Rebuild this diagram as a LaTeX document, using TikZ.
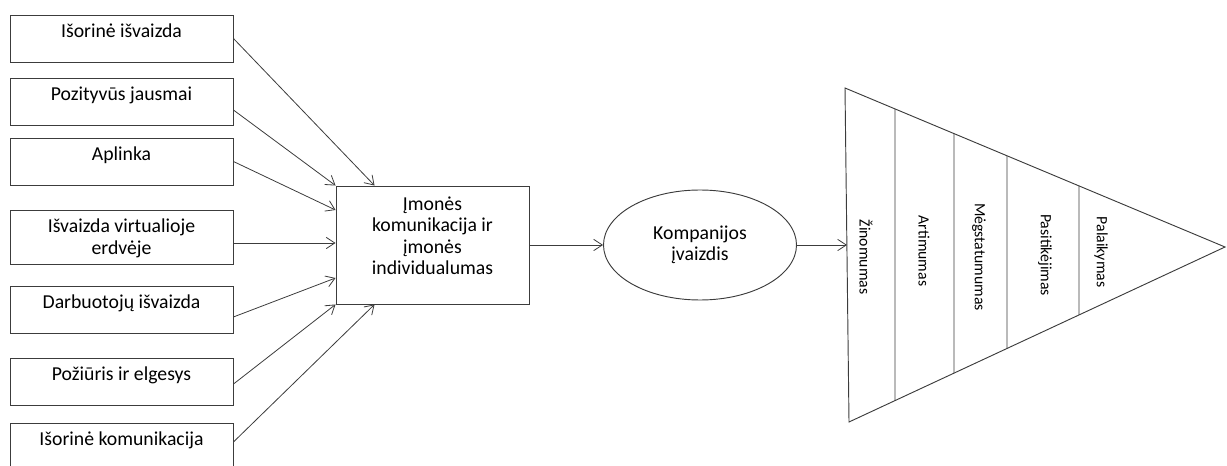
\documentclass[tikz,border=0pt]{standalone}
\usepackage{fontspec}
\setmainfont{Carlito}
\usepackage{tikz}
\usetikzlibrary{positioning,calc,arrows.meta,shapes.geometric}
\definecolor{LineGray}{RGB}{60,60,60}

\begin{document}
\begin{tikzpicture}[
    x=0.75pt,
    y=-0.75pt,
    >={Straight Barb[length=6.5pt,width=8.5pt]},
    box/.style={
        draw=LineGray,
        line width=0.7pt,
        inner sep=0pt,
        minimum width=167.25pt,
        minimum height=35.25pt
    },
    midbox/.style={
        draw=LineGray,
        line width=0.7pt,
        inner sep=0pt,
        minimum width=144.75pt,
        minimum height=88.5pt
    },
    oval/.style={
        ellipse,
        draw=LineGray,
        line width=0.7pt,
        inner sep=0pt,
        align=center,
        minimum width=144.75pt,
        minimum height=82.5pt,
        font=\fontsize{14.8}{16.2}\selectfont
    },
    lbl/.style={
        anchor=north,
        inner sep=0pt,
        align=center,
        font=\fontsize{14.8}{16.2}\selectfont
    },
    level/.style={
        rotate=-90,
        inner sep=0pt,
        font=\fontsize{11.8}{14}\selectfont
    },
    arrow/.style={
        ->,
        line width=0.6pt,
        draw=LineGray
    }
]
\useasboundingbox (0,0) rectangle (1227,466);

% =========================
% Left column: image factors
% =========================
\node[box] (outer)   at (121.5,38.5)  {};
\node[box] (feel)    at (121.5,101.5) {};
\node[box] (env)     at (121.5,161.5) {};
\node[box, minimum height=40.5pt] (virtual) at (121.5,237) {};
\node[box] (staff)   at (121.5,309.5) {};
\node[box] (attit)   at (121.5,381.5) {};
\node[box] (extcom)  at (121.5,446.5) {};

\node[lbl] at ([yshift=-7pt]outer.north)   {Išorinė išvaizda};
\node[lbl] at ([yshift=-7pt]feel.north)    {Pozityvūs jausmai};
\node[lbl] at ([yshift=-7pt]env.north)     {Aplinka};
\node[lbl] at ([yshift=-7pt]virtual.north) {Išvaizda virtualioje\\erdvėje};
\node[lbl] at ([yshift=-7pt]staff.north)   {Darbuotojų išvaizda};
\node[lbl] at ([yshift=-7pt]attit.north)   {Požiūris ir elgesys};
\node[lbl] at ([yshift=-7pt]extcom.north)  {Išorinė komunikacija};

% =========================
% Middle: company and image
% =========================
\node[midbox] (comm) at (432.5,245) {};
\node[lbl] at ([yshift=-8pt]comm.north) {Įmonės\\komunikacija ir\\įmonės\\individualumas};

\node[oval] (image) at (700,245) {Kompanijos\\įvaizdis};

\draw[arrow] (outer.east) -- ([xshift=29.25pt]comm.north west);
\draw[arrow] ([yshift=-6.4pt]feel.east) -- (comm.north west);
\draw[arrow] (env.east) -- ([yshift=26.25pt]comm.west);
\draw[arrow] ([yshift=-4.5pt]virtual.east) -- ([yshift=1.5pt]comm.west);
\draw[arrow] ([yshift=-5.6pt]staff.east) -- ([yshift=-24.75pt]comm.west);
\draw[arrow] ([yshift=-1.9pt]attit.east) -- (comm.south west);
\draw[arrow] ([yshift=3.4pt]extcom.east) -- ([xshift=29.25pt]comm.south west);

\draw[arrow] (comm.east) -- (image.west);

% =========================
% Right: loyalty funnel
% =========================
\coordinate (tl)   at (845,88);
\coordinate (bl)   at (849,422);
\coordinate (apex) at (1225,247);
\coordinate (tin)  at (847,245);

\draw[LineGray, line width=0.7pt] (tl) -- (apex) -- (bl) -- cycle;
\foreach \x in {895,954,1007,1079}
    \draw[LineGray, line width=0.7pt]
        ($(tl)!{(\x-845)/380}!(apex)$) -- ($(bl)!{(\x-849)/376}!(apex)$);

\draw[arrow] (image.east) -- (tin);

\node[level] (aware)  at (866,257)  {Žinomumas};
\node[level] (close)  at (924,251)  {Artimumas};
\node[level] (liking) at (979,257)  {Mėgstatumumas};
\node[level] (trust)  at (1045,255) {Pasitikėjimas};
\node[level] (loyal)  at (1101,252) {Palaikymas};

\end{tikzpicture}
\end{document}
